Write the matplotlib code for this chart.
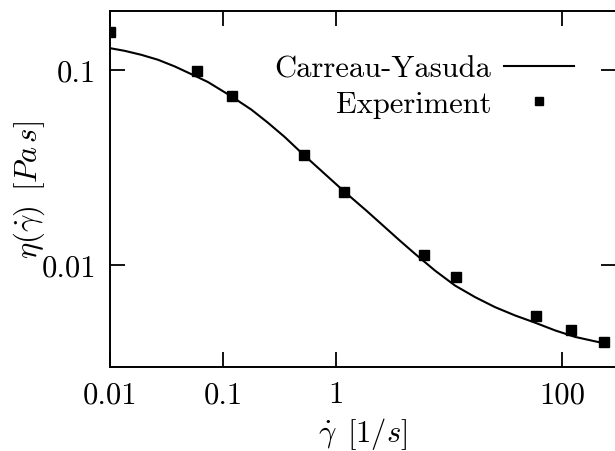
import matplotlib
matplotlib.use('Agg')
import matplotlib.pyplot as plt
from matplotlib.ticker import FixedLocator, FixedFormatter, NullLocator

plt.rcParams['font.family'] = 'cmr10'
plt.rcParams['mathtext.fontset'] = 'cm'
plt.rcParams['axes.unicode_minus'] = False
plt.rcParams['font.size'] = 22

# measured viscosity
shear_exp = [0.01, 0.0593, 0.121, 0.525, 1.18, 6.0, 11.5, 58.5, 119, 235]
eta_exp = [0.157, 0.099, 0.0736, 0.0364, 0.0237, 0.01125, 0.00866, 0.00547, 0.00463, 0.00403]

# Carreau-Yasuda fit, sampled
shear_fit = [0.01, 0.0135, 0.0189, 0.0266, 0.0374, 0.0562, 0.0736, 0.1184, 0.178,
             0.25, 0.352, 0.493, 0.721, 1.18, 1.87, 2.62, 3.68, 5.0, 7.52, 11.3,
             17.0, 25.5, 38.4, 57.7, 86.7, 130, 196, 232]
eta_fit = [0.129, 0.125, 0.1193, 0.1125, 0.104, 0.0932, 0.0865, 0.0731, 0.0625,
           0.0535, 0.0452, 0.0376, 0.0308, 0.0238, 0.0189, 0.01587, 0.0133, 0.0114,
           0.00935, 0.00784, 0.00684, 0.00608, 0.00551, 0.00506, 0.00462, 0.00428,
           0.00406, 0.00398]

xticks = [0.01, 0.1, 1, 100]
xticklabels = ['0.01', '0.1', '1', '100']
yticks = [0.01, 0.1]
yticklabels = ['0.01', '0.1']

fig = plt.figure(figsize=(6.15, 4.52), dpi=100)
ax = fig.add_axes([110/615, 84/452, 506/615, 356/452])

ax.plot(shear_fit, eta_fit, 'k-', lw=1.5, label='Carreau-Yasuda')
ax.plot(shear_exp, eta_exp, 'ks', ms=7.5, ls='none', label='Experiment')

ax.set_xscale('log')
ax.set_yscale('log')
ax.set_xlim(0.01, 300)
ax.set_ylim(0.003, 0.2)

ax.xaxis.set_major_locator(FixedLocator(xticks))
ax.xaxis.set_major_formatter(FixedFormatter(xticklabels))
ax.yaxis.set_major_locator(FixedLocator(yticks))
ax.yaxis.set_major_formatter(FixedFormatter(yticklabels))
ax.xaxis.set_minor_locator(NullLocator())
ax.yaxis.set_minor_locator(NullLocator())
ax.tick_params(which='major', direction='in', length=11, width=1.3,
               top=True, right=True, labelsize=22)
ax.tick_params(axis='x', pad=10)
ax.tick_params(axis='y', pad=10)
for s in ax.spines.values():
    s.set_linewidth(1.4)

ax.set_xlabel(r'$\dot{\gamma}\ \,[1/s]$', fontsize=22)
ax.set_ylabel(r'$\eta(\dot{\gamma})\ \,[Pa\,s]$', fontsize=22)
ax.xaxis.set_label_coords(0.5, -0.135)
ax.yaxis.set_label_coords(-0.125, 0.5)

ax.legend(frameon=False, markerfirst=False, loc='center right',
          bbox_to_anchor=(0.917, 0.788), borderpad=0, borderaxespad=0,
          handlelength=2.3, handletextpad=0.4, labelspacing=0.25,
          markerscale=0.75, fontsize=22)

fig.savefig('out.png', dpi=100)
